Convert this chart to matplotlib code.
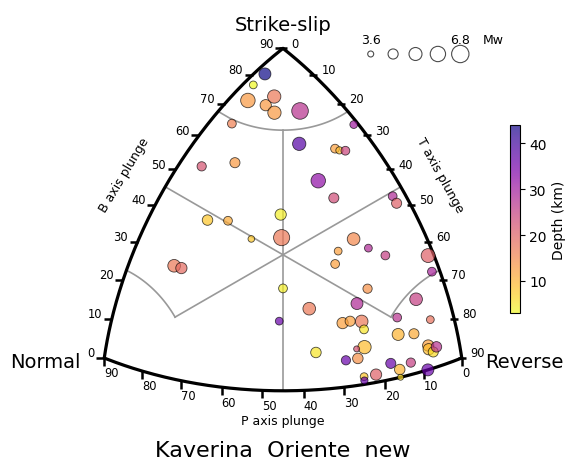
"""Kaverina ternary diagram of focal mechanisms (P, B, T axis plunges)"""

import numpy as np
import matplotlib
matplotlib.use('Agg')
import matplotlib.pyplot as plt
from matplotlib.markers import TICKLEFT, TICKDOWN

TITLE = 'Kaverina  Oriente  new'

# plunges of the P, B and T axes (degrees), depth (km) and magnitude
p_plunge = [8, 12, 16, 14, 11, 14, 9, 23, 1, 15, 9, 8, 7, 36, 30, 17,
            46, 42, 30, 32, 40, 16, 3, 3, 18, 22, 15, 12, 25, 1, 2, 39,
            19, 23, 35, 44, 28, 26, 23, 23, 24, 26, 36, 29, 26, 25, 25, 22,
            8, 14, 6, 15, 11, 8, 8, 7, 6, 18, 13, 16, 16, 9, 60, 59]
b_plunge = [82, 78, 73, 74, 76, 72, 73, 66, 64, 64, 60, 60, 59, 54, 57, 54,
            42, 43, 46, 43, 39, 49, 44, 42, 37, 35, 34, 31, 32, 27, 23, 27,
            24, 21, 20, 17, 17, 17, 16, 14, 10, 10, 10, 7, 7, 2, 1, 2,
            18, 15, 12, 11, 10, 6, 5, 4, 5, 4, 3, 2, 0, 0, 28, 28]
t_plunge = [2, 2, 4, 8, 8, 11, 15, 5, 26, 21, 28, 29, 30, 5, 12, 31,
            13, 18, 29, 31, 26, 37, 46, 48, 47, 47, 52, 56, 47, 64, 67, 39,
            59, 58, 49, 42, 56, 58, 62, 63, 63, 61, 52, 60, 63, 65, 65, 68,
            71, 70, 77, 71, 75, 80, 81, 82, 82, 72, 77, 74, 74, 81, 11, 13]
depth = [44, 3, 13, 13, 17, 13, 27, 16, 30, 38, 12, 9, 24, 22, 13, 32,
         8, 11, 4, 17, 8, 23, 28, 20, 15, 12, 28, 25, 12, 20, 29, 4,
         14, 28, 17, 36, 12, 12, 17, 5, 9, 22, 5, 36, 14, 8, 36, 20,
         25, 27, 18, 10, 11, 12, 9, 6, 27, 36, 25, 10, 6, 36, 17, 19]
mw = [4.9, 3.9, 5.7, 4.7, 5.3, 5.3, 6.5, 4.1, 3.9, 5.3, 4.1, 3.8, 4.1, 4.2, 4.4, 5.7,
      4.5, 4.1, 4.7, 6.3, 3.7, 4.4, 4.1, 4.4, 5.1, 3.9, 3.9, 4.1, 4.1, 5.5, 4.1, 4.1,
      4.2, 4.9, 5.1, 3.9, 4.7, 4.4, 5.1, 4.1, 5.3, 3.6, 4.5, 4.2, 4.5, 3.9, 3.8, 4.7,
      5.1, 4.1, 3.9, 4.9, 4.4, 4.7, 4.7, 4.4, 4.5, 4.4, 4.2, 4.5, 3.6, 4.9, 5.1, 4.7]

# magnitude scale shown at the top
legend_mw = [3.6, 4.4, 5.2, 6.0, 6.8]

TICKS = np.arange(0, 91, 10)
LIMIT = 67.5  # plunge threshold of the pure fault classes
GREY = '#999999'


def kave(P, B, T):
    """Kaverina diagram coordinates from the plunges of the P, B and T axes"""
    zp = np.sin(np.radians(np.asarray(P, dtype=float)))
    zb = np.sin(np.radians(np.asarray(B, dtype=float)))
    zt = np.sin(np.radians(np.asarray(T, dtype=float)))
    L = 2 * np.sin(0.5 * np.arccos(np.clip((zt + zb + zp) / np.sqrt(3), -1, 1)))
    N = np.sqrt(2 * ((zb - zp)**2 + (zb - zt)**2 + (zt - zp)**2))
    N = np.where(N == 0, 1, N)
    x = np.sqrt(3) * (L / N) * (zt - zp)
    y = (L / N) * (2 * zb - zp - zt)
    return x, y


def equal_pair(k, vals):
    """plunge of axis k runs through vals, the other two plunges are equal"""
    s = np.sin(np.radians(vals))
    other = np.degrees(np.arcsin(np.sqrt((1 - s**2) / 2)))
    out = [other, other, other]
    out[k] = vals
    return out


def small_circle(k, j, vals, fixed=LIMIT):
    """axis k held at a fixed plunge, axis j runs through vals"""
    rest = 1 - np.sin(np.radians(fixed))**2 - np.sin(np.radians(vals))**2
    out = [None] * 3
    out[k] = np.full_like(vals, fixed)
    out[j] = vals
    out[3 - k - j] = np.degrees(np.arcsin(np.sqrt(np.clip(rest, 0, 1))))
    return out


def msize(m):
    return 43 * (np.asarray(m) - 3.17)


def baseplot(fig):
    ax = fig.add_axes([0, 0, 1, 1])
    ax.set_xlim(-1.2606, 1.2561)
    ax.set_ylim(-0.9096, 1.1394)
    ax.axis('off')

    # classification boundaries
    centre = np.degrees(np.arcsin(1 / np.sqrt(3)))
    corner = np.degrees(np.arcsin(np.sqrt((1 - np.sin(np.radians(LIMIT))**2) / 2)))
    inner = np.linspace(centre, LIMIT, 50)
    outer = np.linspace(0, centre, 50)
    parts = [equal_pair(k, inner) for k in range(3)]
    parts += [equal_pair(k, outer) for k in range(3)]
    parts.append(small_circle(1, 0, np.linspace(0, 90 - LIMIT, 80)))
    parts.append(small_circle(0, 2, np.linspace(0, corner, 60)))
    parts.append(small_circle(2, 0, np.linspace(0, corner, 60)))
    for P, B, T in parts:
        x, y = kave(P, B, T)
        ax.plot(x, y, color=GREY, lw=1.2, zorder=1)

    # outer triangle
    a = np.linspace(0, 90, 200)
    for P, B, T in [(90 - a, a, 0 * a), (0 * a, 90 - a, a), (a, 0 * a, 90 - a)]:
        x, y = kave(P, B, T)
        ax.plot(x, y, color='k', lw=2.3, solid_capstyle='round', zorder=2)

    # B axis ticks (left side)
    x, y = kave(90 - TICKS, TICKS, 0 * TICKS)
    ax.plot(x, y, ls='none', marker=TICKLEFT, ms=6, mew=1.8, color='k', zorder=2)
    for xi, yi, t in zip(x, y, TICKS):
        ax.annotate(str(t), (xi, yi), xytext=(-7, -1), textcoords='offset points',
                    ha='right', va='bottom', fontsize=8.3)
    # T axis ticks (right side)
    x, y = kave(0 * TICKS, 90 - TICKS, TICKS)
    ax.plot(x, y, ls='none', marker='_', ms=6, mew=1.8, color='k', zorder=2)
    for xi, yi, t in zip(x, y, TICKS):
        ax.annotate(str(t), (xi, yi), xytext=(6, -1), textcoords='offset points',
                    ha='left', va='bottom', fontsize=8.3)
    # P axis ticks (bottom side)
    x, y = kave(TICKS, 0 * TICKS, 90 - TICKS)
    ax.plot(x, y, ls='none', marker=TICKDOWN, ms=6, mew=1.8, color='k', zorder=2)
    for xi, yi, t in zip(x, y, TICKS):
        ax.annotate(str(t), (xi, yi), xytext=(0, -6), textcoords='offset points',
                    ha='left', va='top', fontsize=8.3)

    # vertex names and axis titles
    ax.annotate('Strike-slip', kave(0, 90, 0), xytext=(0, 13),
                textcoords='offset points', ha='center', va='baseline', fontsize=14)
    ax.annotate('Normal', kave(90, 0, 0), xytext=(-17, -6.5),
                textcoords='offset points', ha='right', va='baseline', fontsize=14)
    ax.annotate('Reverse', kave(0, 0, 90), xytext=(16.5, -6.5),
                textcoords='offset points', ha='left', va='baseline', fontsize=14)
    ax.annotate('P axis plunge', kave(45, 0, 45), xytext=(0, -24),
                textcoords='offset points', ha='center', va='baseline', fontsize=9)
    ax.annotate('B axis plunge', kave(40, 50, 0), xytext=(-37, -4),
                textcoords='offset points', ha='center', va='center',
                rotation=59, fontsize=9)
    ax.annotate('T axis plunge', kave(0, 50, 40), xytext=(36, -4),
                textcoords='offset points', ha='center', va='center',
                rotation=-61, fontsize=9)
    return ax


fig = plt.figure(figsize=(5.65, 4.6), dpi=100)
ax = baseplot(fig)

x, y = kave(p_plunge, b_plunge, t_plunge)
sc = ax.scatter(x, y, s=msize(mw), c=depth, cmap='plasma_r', alpha=0.7,
                edgecolors='k', linewidths=0.6, zorder=3)

cax = fig.add_axes([0.9018, 0.3174, 0.0177, 0.4087])
cb = fig.colorbar(sc, cax=cax)
cb.set_ticks([10, 20, 30, 40])
cb.ax.tick_params(labelsize=10, length=3.5)
cb.set_label('Depth (km)', fontsize=10)

# magnitude scale
lax = fig.add_axes([0.6363, 0.8587, 0.1982, 0.0435])
lax.set_xlim(-0.5, len(legend_mw) - 0.5)
lax.set_ylim(-1, 1)
lax.axis('off')
idx = np.arange(len(legend_mw))
lax.scatter(idx, 0 * idx, s=msize(legend_mw), facecolors='none',
            edgecolors='k', alpha=0.7, linewidths=0.8, clip_on=False)
lax.annotate(f'{legend_mw[0]}', (idx[0], 0), xytext=(0, 10.5), textcoords='offset points',
             ha='center', va='center', fontsize=9)
lax.annotate(f'{legend_mw[-1]}', (idx[-1], 0), xytext=(0, 10.5), textcoords='offset points',
             ha='center', va='center', fontsize=9)
lax.annotate('Mw', (idx[-1], 0), xytext=(23.5, 10.5), textcoords='offset points',
             ha='center', va='center', fontsize=9)

fig.text(0.5009, 0.0065, TITLE, ha='center', va='baseline', fontsize=16)

fig.savefig('out.png', dpi=100)
